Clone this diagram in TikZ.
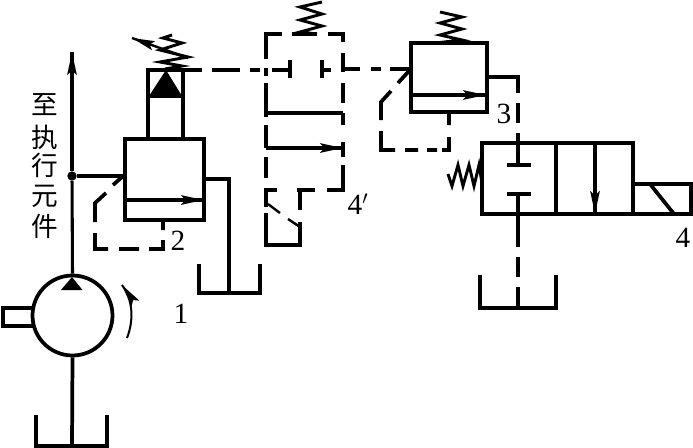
\documentclass[tikz,border=0pt]{standalone}
\usepackage{fontspec}
\newfontfamily\cjk{Noto Sans CJK SC}
\setmainfont{Liberation Serif}
\usetikzlibrary{arrows.meta}
\usetikzlibrary{decorations.markings}
\tikzset{tip/.style = {decoration={markings,
                                   mark=at position 1 with {\arrow{Stealth[length=17pt, width=7pt, inset=3pt]}}},
                       postaction={decorate}}}
\tikzset{pipe/.style = {line width = 2.8pt, line join = miter}}
\tikzset{thin pipe/.style = {line width = 2.3pt}}
\tikzset{springline/.style = {line width = 2.2pt}}
\tikzset{blk/.style 2 args = {draw, line width = 2.8pt, inner sep = 0, minimum width = #1*0.75pt, minimum height = #2*0.75pt}}
\tikzset{num/.style = {font = \fontsize{22}{22}\selectfont, inner sep = 0}}
\tikzset{word/.style = {font = \fontsize{20}{20}\cjk, inner sep = 0}}
\begin{document}
\begin{tikzpicture}[x=0.75pt, y=-0.75pt]
      \useasboundingbox (0, 0) rectangle (693, 447);

      % pump and main line
      \node [blk={80}{80}, circle] (pump) at (72.5, 315.5) {};
      \node [fill, circle, inner sep = 0, minimum size = 7pt] (joint) at (72, 176) {};
      \coordinate (up) at (72, 52);
      \coordinate (tankA) at (72, 446);
      \draw [thin pipe] (pump.north) -- (joint);
      \draw [thin pipe, tip] (joint) -- (up);
      \draw [pipe] (pump.south) -- (tankA);
      \draw [pipe] (36, 415) -- (36, 446) -- (107, 446) -- (107, 415);
      \fill (72, 277) -- (82.5, 290) -- (61, 290) -- cycle;
      \draw [pipe] (33, 308) -- (3, 308) -- (3, 326) -- (33, 326);
      \draw [line width = 1.5pt, tip] (127, 338) .. controls (134, 320) and (133, 300) .. (122, 285);

      % valve 2
      \node [blk={79}{81}] (valveB) at (164.5, 179.5) {};
      \coordinate (portB) at (125, 176);
      \draw [pipe] (joint) -- (portB);
      \draw [thin pipe, tip] (125, 200) -- (204, 200);
      \draw [pipe] (122, 177) -- (113, 185) (106, 193) -- (95, 203) -- (95, 222) (95, 233) -- (95, 249) -- (108, 249) (119, 249) -- (139, 249) (149, 249) -- (163, 249) -- (163, 240) (163, 230) -- (163, 220);
      \draw [pipe] (204, 179) -- (229, 179) -- (229, 293);
      \draw [pipe] (199, 264) -- (199, 293) -- (260, 293) -- (260, 264);

      % pilot head
      \draw [pipe] (148, 139) -- (148, 70) -- (183, 70) -- (183, 139);
      \draw [pipe] (148, 96) -- (183, 96);
      \fill (166, 70) -- (182, 96) -- (149, 96) -- cycle;
      \draw [springline] (172, 35) -- (163, 38) -- (182, 43) -- (160, 50) -- (188, 57) -- (160, 62) -- (182, 66) -- (165, 69);
      \draw [line width = 1.8pt, tip] (188, 58) -- (132, 38);

      % valve 4'
      \coordinate (stemA) at (290, 70);
      \coordinate (stemB) at (322, 70);
      \draw [pipe] (183, 70) -- (202, 70) (212, 70) -- (240, 70) (250, 70) -- (260, 70) (272, 70) -- (stemA);
      \draw [pipe] (290, 60) -- (290, 78);
      \draw [pipe] (322, 60) -- (322, 78);
      \draw [pipe] (stemB) -- (331, 70);
      \draw [pipe] (266, 59) -- (266, 34) -- (282, 34) (292, 34) -- (317, 34) (328, 34) -- (343, 34) -- (343, 42);
      \draw [pipe] (266, 68) -- (266, 76) (266, 83) -- (266, 117) (266, 125) -- (266, 148) (266, 157) -- (266, 178);
      \draw [pipe] (343, 53) -- (343, 72) (343, 83) -- (343, 103) (343, 113) -- (343, 125) (343, 142) -- (343, 157) (343, 165) -- (343, 190) -- (327, 190) (315, 190) -- (297, 190) (277, 190) -- (266, 190) -- (266, 207) (266, 213) -- (266, 245) -- (300, 245) -- (300, 222) (300, 210) -- (300, 190);
      \draw [pipe] (266, 113) -- (343, 113);
      \draw [thin pipe, tip] (266, 148) -- (343, 148);
      \draw [line width = 1.8pt] (268, 204) -- (280, 213) (288, 219) -- (300, 227);
      \draw [springline] (322, 2) -- (300, 7) -- (322, 14) -- (300, 20) -- (322, 26) -- (300, 32) -- (317, 34);

      % valve 3
      \node [blk={76}{69}] (valveC) at (449, 77.5) {};
      \coordinate (portC) at (409, 69);
      \draw [pipe] (345, 69) -- (360, 69) (371, 69) -- (381, 69) (390, 69) -- (portC);
      \draw [thin pipe, tip] (411, 95) -- (486, 95);
      \draw [pipe] (410, 70) -- (398, 83) (391, 91) -- (381, 102) -- (381, 120) (381, 131) -- (381, 150) -- (395, 150) (405, 150) -- (418, 150) (427, 150) -- (437, 150) (442, 150) -- (449, 150) -- (449, 137) (449, 125) -- (449, 112);
      \draw [springline] (440, 12) -- (462, 17) -- (440, 23) -- (462, 29) -- (440, 35) -- (462, 40) -- (435, 43);

      % valve 4
      \node [blk={151}{71}] (valveD) at (557.5, 178.5) {};
      \draw [pipe] (556, 143) -- (556, 214);
      \draw [thin pipe, tip] (595, 143) -- (595, 214);
      \draw [pipe] (633, 184) -- (691, 184) -- (691, 214) -- (633, 214);
      \draw [pipe] (650, 184) -- (674, 214);
      \draw [springline] (448, 174) -- (452, 186) -- (458, 165) -- (463, 186) -- (469, 165) -- (474, 186) -- (479, 165) -- (482, 183);
      \draw [pipe] (487, 77) -- (518, 77) -- (518, 93) (518, 103) -- (518, 123) (518, 133) -- (518, 165);
      \draw [pipe] (507, 165) -- (531, 165);
      \draw [pipe] (507, 194) -- (531, 194);
      \draw [pipe] (518, 194) -- (518, 247) (518, 257) -- (518, 277) (518, 287) -- (518, 308);
      \draw [pipe] (480, 275) -- (480, 308) -- (556, 308) -- (556, 275);

      % labels
      \node [num] (lblA) at (181, 314) {1};
      \node [num] (lblB) at (178, 241) {2};
      \node [num] (lblC) at (504, 114) {3};
      \node [num] (lblD) at (683, 238) {4};
      \node [num] (lblE) at (358, 204) {4$'$};
      \node [word] (wordA) at (45, 105) {至};
      \node [word] (wordB) at (45, 137) {执};
      \node [word] (wordC) at (45, 165) {行};
      \node [word] (wordD) at (45, 196) {元};
      \node [word] (wordE) at (45, 226) {件};
    \end{tikzpicture}
\end{document}
